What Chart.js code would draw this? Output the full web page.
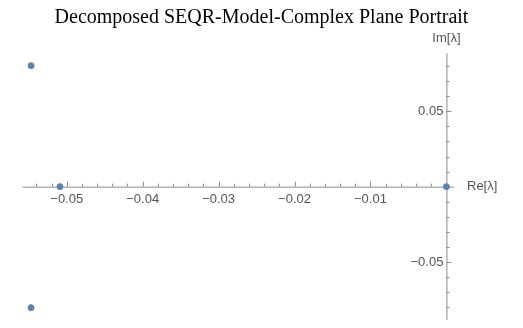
<!DOCTYPE html>
<html>
<head>
<meta charset="utf-8">
<script src="https://cdn.jsdelivr.net/npm/chart.js@4.4.0/dist/chart.umd.min.js"></script>
<style>
html,body{margin:0;padding:0;background:#fff;}
#wrap{width:523px;height:328px;}
</style>
</head>
<body>
<div id="wrap"><canvas id="c" width="523" height="328"></canvas></div>
<script>
// Data
const reValues = [-0.0547, -0.0547, -0.0509, 0.0];
const imValues = [0.0803, -0.0803, 0.0, 0.0];
const xMajorTicks = [-0.05, -0.04, -0.03, -0.02, -0.01];
const xMajorLabels = ["\u22120.05", "\u22120.04", "\u22120.03", "\u22120.02", "\u22120.01"];
const xMinorTicks = [-0.054, -0.052, -0.048, -0.046, -0.044, -0.042, -0.038, -0.036, -0.034, -0.032, -0.028, -0.026, -0.024, -0.022, -0.018, -0.016, -0.014, -0.012, -0.008, -0.006, -0.004, -0.002];
const yMajorTicks = [0.05, -0.05];
const yMajorLabels = ["0.05", "\u22120.05"];
const yMinorTicks = [0.08, 0.07, 0.06, 0.04, 0.03, 0.02, 0.01, -0.01, -0.02, -0.03, -0.04, -0.06, -0.07, -0.08];
const titleText = "Decomposed SEQR-Model-Complex Plane Portrait";
const xAxisLabel = "Re[\u03bb]";
const yAxisLabel = "Im[\u03bb]";

const points = reValues.map((x, i) => ({x: x, y: imValues[i]}));

const axisColor = '#8c8c8c';
const labelColor = '#555555';
const labelFont = '13px "Liberation Sans", Arial, sans-serif';

const axesPlugin = {
  id: 'mmaAxes',
  beforeDatasetsDraw(chart) {
    const ctx = chart.ctx;
    const xs = chart.scales.x, ys = chart.scales.y;
    const x0 = xs.getPixelForValue(0);
    const y0 = ys.getPixelForValue(0);
    const left = xs.getPixelForValue(xs.min), right = xs.getPixelForValue(xs.max);
    const top = ys.getPixelForValue(ys.max), bottom = ys.getPixelForValue(ys.min);
    ctx.save();
    // title
    ctx.fillStyle = '#000';
    ctx.font = '20px "Liberation Serif", "Times New Roman", serif';
    ctx.textAlign = 'center';
    ctx.textBaseline = 'alphabetic';
    ctx.fillText(titleText, chart.width / 2, 23);

    ctx.strokeStyle = axisColor;
    ctx.lineWidth = 1;
    // axis lines
    ctx.beginPath();
    ctx.moveTo(left, y0 + 0.5); ctx.lineTo(right, y0 + 0.5);
    ctx.moveTo(x0 + 0.5, top); ctx.lineTo(x0 + 0.5, bottom);
    ctx.stroke();
    // x ticks (upward)
    ctx.beginPath();
    xMajorTicks.forEach(v => { const p = Math.round(xs.getPixelForValue(v)) + 0.5; ctx.moveTo(p, y0); ctx.lineTo(p, y0 - 5); });
    xMinorTicks.forEach(v => { const p = Math.round(xs.getPixelForValue(v)) + 0.5; ctx.moveTo(p, y0); ctx.lineTo(p, y0 - 3); });
    // y ticks (rightward)
    yMajorTicks.forEach(v => { const p = Math.round(ys.getPixelForValue(v)) + 0.5; ctx.moveTo(x0, p); ctx.lineTo(x0 + 5, p); });
    yMinorTicks.forEach(v => { const p = Math.round(ys.getPixelForValue(v)) + 0.5; ctx.moveTo(x0, p); ctx.lineTo(x0 + 3, p); });
    ctx.stroke();
    // labels
    ctx.fillStyle = labelColor;
    ctx.font = labelFont;
    ctx.textAlign = 'center';
    ctx.textBaseline = 'middle';
    xMajorTicks.forEach((v, i) => ctx.fillText(xMajorLabels[i], xs.getPixelForValue(v), y0 + 13));
    ctx.textAlign = 'right';
    yMajorTicks.forEach((v, i) => ctx.fillText(yMajorLabels[i], x0 - 3, ys.getPixelForValue(v)));
    // axis names
    ctx.textAlign = 'left';
    ctx.fillText(xAxisLabel, right + 13, y0);
    ctx.textAlign = 'center';
    ctx.fillText(yAxisLabel, x0, top - 15);
    ctx.restore();
  }
};

new Chart(document.getElementById('c'), {
  type: 'scatter',
  data: {
    datasets: [{
      data: points,
      backgroundColor: '#5e81b5',
      borderColor: '#5e81b5',
      pointRadius: 3,
      pointHoverRadius: 3,
      clip: false
    }]
  },
  options: {
    responsive: false,
    animation: false,
    events: [],
    layout: { padding: { left: 22.7, right: 69, bottom: 8, top: 53.3 } },
    plugins: {
      legend: { display: false },
      tooltip: { enabled: false },
      title: { display: false }
    },
    scales: {
      x: { type: 'linear', min: -0.0558, max: 0.001, display: false },
      y: { type: 'linear', min: -0.0885, max: 0.0885, display: false }
    }
  },
  plugins: [axesPlugin]
});
</script>
</body>
</html>
